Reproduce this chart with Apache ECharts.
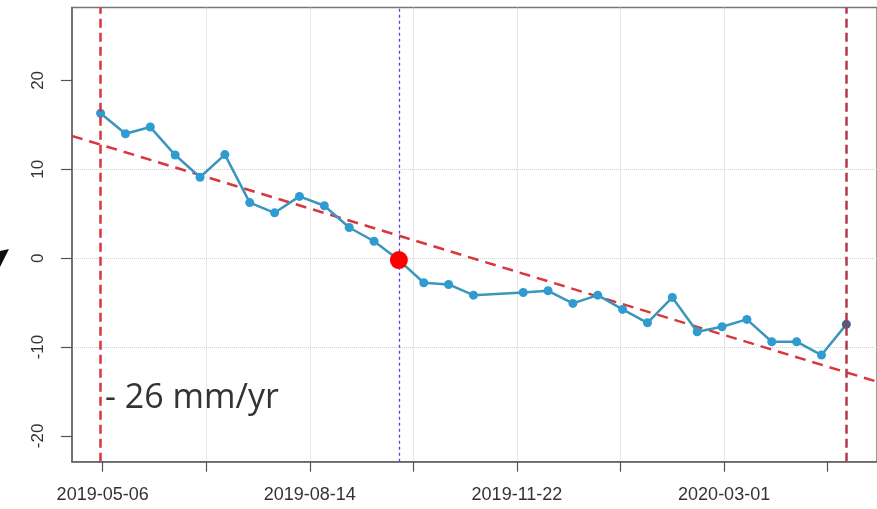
<!DOCTYPE html>
<html><head><meta charset="utf-8">
<script src="https://cdn.jsdelivr.net/npm/echarts@6/dist/echarts.min.js"></script>
<style>html,body{margin:0;padding:0;background:#fff}#c{width:877px;height:509px}</style>
</head><body><div id="c"></div>
<script>
// ---- data ----
const DATES = ['2019-05-05','2019-05-17','2019-05-29','2019-06-10','2019-06-22','2019-07-04','2019-07-16','2019-07-28','2019-08-09','2019-08-21','2019-09-02','2019-09-14','2019-09-26','2019-10-08','2019-10-20','2019-11-01','2019-11-25','2019-12-07','2019-12-19','2019-12-31','2020-01-12','2020-01-24','2020-02-05','2020-02-17','2020-02-29','2020-03-12','2020-03-24','2020-04-05','2020-04-17','2020-04-29'];
const DISPLACEMENT = [16.3,14.0,14.75,11.6,9.1,11.65,6.25,5.1,6.95,5.9,3.45,1.9,-0.22,-2.77,-2.96,-4.16,-3.86,-3.67,-5.09,-4.16,-5.77,-7.27,-4.42,-8.28,-7.72,-6.89,-9.4,-9.4,-10.9,-7.45];
const REF_DATE = '2019-09-26';
const X_TICK_DATES = ['2019-05-06','2019-06-25','2019-08-14','2019-10-03','2019-11-22','2020-01-11','2020-03-01','2020-04-20'];
const X_LABEL_DATES = ['2019-05-06','2019-08-14','2019-11-22','2020-03-01'];
const Y_TICKS = [-20,-10,0,10,20];
const TREND_ENDS = [13.75, -13.9];   // trend value at left and right plot edges
const RATE_LABEL = '- 26 mm/yr';

// ---- helpers ----
const ORIGIN = Date.UTC(2019,4,6);
function day(s){const p=s.split('-').map(Number);return Math.round((Date.UTC(p[0],p[1]-1,p[2])-ORIGIN)/86400000);}
function fmt(d){const t=new Date(ORIGIN+d*86400000);const m=t.getUTCMonth()+1, dd=t.getUTCDate();return t.getUTCFullYear()+'-'+(m<10?'0':'')+m+'-'+(dd<10?'0':'')+dd;}
const XMIN=-14.8, XMAX=373.8;
const pts = DATES.map((d,i)=>{
  const o={value:[day(d),DISPLACEMENT[i]]};
  if(i===DATES.length-1) o.itemStyle={color:'#4d5f80'};
  return o;
});
const refIdx = DATES.indexOf(REF_DATE);
const FONT='Liberation Sans';

const chart = echarts.init(document.getElementById('c'),null,{renderer:'canvas'});
chart.setOption({
  animation:false,
  backgroundColor:'#fff',
  grid:{left:72,top:7.5,right:-1.5,bottom:47.3,show:true,borderColor:'#777',borderWidth:1.5,containLabel:false},
  xAxis:{type:'value',min:XMIN,max:XMAX,minInterval:50,maxInterval:50,
    axisLine:{show:true,onZero:false,lineStyle:{color:'#666',width:1.5}},
    axisTick:{show:true,length:10,customValues:X_TICK_DATES.map(day),lineStyle:{color:'#555',width:1.2}},
    axisLabel:{customValues:X_LABEL_DATES.map(day),formatter:v=>fmt(v),color:'#333',fontSize:18,fontFamily:FONT,margin:24},
    splitLine:{show:true,showMinLine:false,showMaxLine:false,lineStyle:{color:'#d0d0d0',type:'dotted',width:1}}
  },
  yAxis:{type:'value',min:-22.9,max:28.2,minInterval:10,maxInterval:10,
    axisLine:{show:true,onZero:false,lineStyle:{color:'#666',width:1.5}},
    axisTick:{show:true,length:11,customValues:Y_TICKS,lineStyle:{color:'#555',width:1.2}},
    axisLabel:{customValues:Y_TICKS,rotate:90,color:'#333',fontSize:17,fontFamily:FONT,margin:25},
    splitLine:{show:true,showMinLine:false,showMaxLine:false,lineStyle:{color:'#d0d0d0',type:'dotted',width:1}}
  },
  series:[
    {type:'line',data:[[XMIN,TREND_ENDS[0]],[XMAX,TREND_ENDS[1]]],symbol:'none',z:3,
      lineStyle:{color:'#d9363e',width:2.5,type:[11,7]},
      markLine:{silent:true,symbol:'none',label:{show:false},
        data:[
          {xAxis:day(DATES[0]),lineStyle:{color:'#d9363e',width:2.5,type:[9,5]}},
          {xAxis:day(DATES[DATES.length-1]),lineStyle:{color:'#b23a4e',width:2.5,type:[9,5]}},
          {xAxis:day(REF_DATE),lineStyle:{color:'#4a4ae8',width:1.3,type:[3,3],opacity:1}}
        ]}
    },
    {type:'line',data:pts,z:4,symbol:'circle',symbolSize:9,
      lineStyle:{color:'#3a97bb',width:2.5},itemStyle:{color:'#2f9bd0'}},
    {type:'scatter',data:[[day(REF_DATE),DISPLACEMENT[refIdx]]],symbolSize:18,z:6,itemStyle:{color:'#ff0000',opacity:1}}
  ],
  graphic:[
    {type:'text',left:105,top:381,style:{text:RATE_LABEL,fill:'#333',font:'34px "Open Sans"'}},
    {type:'polygon',shape:{points:[[0,251],[9,249],[0,267]]},style:{fill:'#111'}}
  ]
});
</script></body></html>
